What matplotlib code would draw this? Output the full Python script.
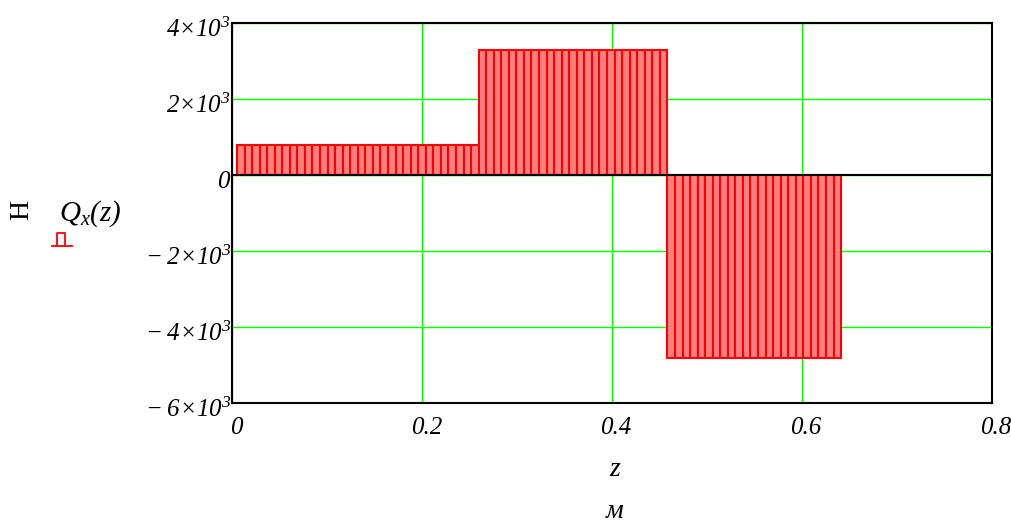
import matplotlib
matplotlib.use('Agg')
import matplotlib.pyplot as plt
import numpy as np
from matplotlib.transforms import ScaledTranslation
from matplotlib.lines import Line2D

# ---- data ----
seg_counts = [32, 25, 23]          # number of bars in each load segment
seg_values = [790, 3290, -4820]    # Q_x value in each segment, H
z_first = 0.0047                   # left edge of first bar, m
bar_step = 0.00796                 # bar spacing, m
x_ticks = [0, 0.2, 0.4, 0.6, 0.8]
x_tick_labels = ['0', '0.2', '0.4', '0.6', '0.8']
y_ticks = [4000, 2000, 0, -2000, -4000, -6000]
y_tick_labels = [r'$4{\times}10^{3}$', r'$2{\times}10^{3}$', r'$0$',
                 r'$-\;2{\times}10^{3}$', r'$-\;4{\times}10^{3}$', r'$-\;6{\times}10^{3}$']

plt.rcParams['font.family'] = ['Liberation Serif', 'DejaVu Serif']
plt.rcParams['font.style'] = 'italic'
plt.rcParams['mathtext.fontset'] = 'custom'
plt.rcParams['mathtext.rm'] = 'Liberation Serif:italic'
plt.rcParams['mathtext.it'] = 'Liberation Serif:italic'
plt.rcParams['mathtext.bf'] = 'Liberation Serif:italic:bold'

W, H = 1012, 528
fig = plt.figure(figsize=(W / 100, H / 100), dpi=100)
ax = fig.add_axes([232.5 / W, 1 - 402.7 / H, 759 / W, 380 / H])

heights = np.repeat(seg_values, seg_counts)
z_left = z_first + bar_step * np.arange(len(heights))

ax.bar(z_left, heights, width=bar_step, align='edge', color='#ff8080',
       edgecolor='#ff0000', linewidth=1.5, zorder=2)

ax.set_xlim(0, 0.8)
ax.set_ylim(-6000, 4000)
ax.set_xticks(x_ticks)
ax.set_xticklabels(x_tick_labels)
ax.set_yticks(y_ticks)
ax.set_yticklabels(y_tick_labels)
ax.tick_params(length=0, labelsize=18, colors='black')
ax.tick_params(axis='y', pad=1)
ax.tick_params(axis='x', pad=10)

ax.grid(True, color='#00ff00', linewidth=1.0, zorder=0)
ax.set_axisbelow(True)
ax.axhline(0, color='black', linewidth=1.5, zorder=3)

for s in ax.spines.values():
    s.set_linewidth(1.5)
    s.set_color('black')
    s.set_zorder(4)

# shift tick labels slightly as in reference
off = ScaledTranslation(0, -5 / 100, fig.dpi_scale_trans)
for lab in ax.get_yticklabels():
    lab.set_transform(lab.get_transform() + off)
offx = ScaledTranslation(4 / 100, 0, fig.dpi_scale_trans)
for lab in ax.get_xticklabels():
    lab.set_transform(lab.get_transform() + offx)

# axis labels
fig.text(22 / W, 1 - 210 / H, 'H', rotation=90, fontsize=20, style='normal',
         ha='center', va='center')
fig.text(59 / W, 1 - 214 / H, r'$Q_x(z)$', fontsize=21, ha='left', va='center')
fig.text(615 / W, 1 - 469 / H, 'z', fontsize=20, ha='center', va='center')
fig.text(615 / W, 1 - 511 / H, 'м', fontsize=20, ha='center', va='center')

# legend trace symbol (bar style)
fig.add_artist(Line2D([52 / W, 72 / W], [1 - 245.7 / H] * 2,
                      color='#ff0000', linewidth=1.3, transform=fig.transFigure))
bx = [56.7, 56.7, 65, 65]
by = [245.7, 233, 233, 245.7]
fig.add_artist(Line2D([v / W for v in bx], [1 - v / H for v in by],
                      color='#ff0000', linewidth=1.3, transform=fig.transFigure))

fig.savefig('out.png', dpi=100)
